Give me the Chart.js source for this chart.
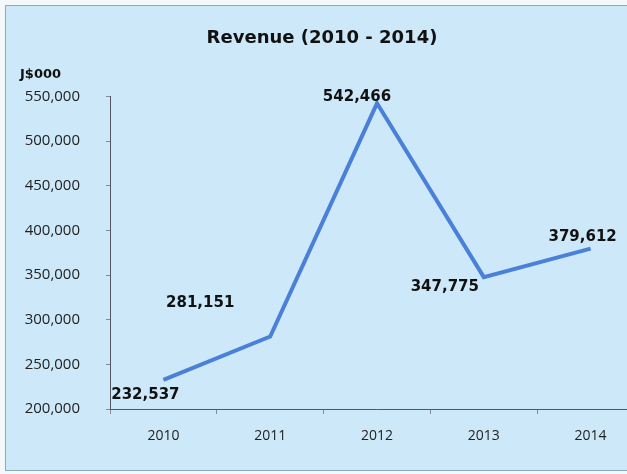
<!DOCTYPE html>
<html>
<head>
<meta charset="utf-8">
<script src="https://cdn.jsdelivr.net/npm/chart.js@4.4.1/dist/chart.umd.min.js"></script>
<style>
  html, body { margin: 0; padding: 0; background: #f4f8fb; overflow: hidden; }
  body { width: 627px; height: 474px; position: relative; }
  #bg {
    position: absolute; left: 5px; top: 5px; width: 640px; height: 464px;
    background: #cde8f8; border: 1px solid #8ea9ba;
  }
  #wrap { position: absolute; left: 0; top: 0; width: 660px; height: 474px; }
</style>
</head>
<body>
<div id="bg"></div>
<div id="wrap"><canvas id="chart" width="660" height="474"></canvas></div>
<script>
const years = ['2010', '2011', '2012', '2013', '2014'];
const revenue = [232537, 281151, 542466, 347775, 379612];
const yTicks = [200000, 250000, 300000, 350000, 400000, 450000, 500000, 550000];

// where each value label sits relative to its point
const labelShift = [[-18, 15], [-70, -33], [-20, -6], [-39, 10], [-8, -12]];

const fmt = v => v.toLocaleString('en-US');

const valueLabels = {
  id: 'valueLabels',
  afterDatasetsDraw(chart) {
    const ctx = chart.ctx;
    const meta = chart.getDatasetMeta(0);
    ctx.save();
    ctx.font = 'bold 15px "DejaVu Sans"';
    ctx.fillStyle = '#111';
    ctx.textAlign = 'center';
    ctx.textBaseline = 'middle';
    meta.data.forEach((pt, i) => {
      const [dx, dy] = labelShift[i];
      ctx.fillText(fmt(revenue[i]), pt.x + dx, pt.y + dy);
    });
    // unit label above the y axis
    ctx.font = 'bold 13px "DejaVu Sans"';
    ctx.textAlign = 'left';
    ctx.fillText('J$000', 20, 75);
    ctx.restore();
  }
};

new Chart(document.getElementById('chart'), {
  type: 'line',
  data: {
    labels: years,
    datasets: [{
      data: revenue,
      borderColor: '#4a80d9',
      borderWidth: 4,
      pointRadius: 0,
      tension: 0
    }]
  },
  options: {
    responsive: false,
    animation: false,
    layout: { padding: { left: 0, right: 16, top: 0, bottom: 0 } },
    plugins: {
      legend: { display: false },
      tooltip: { enabled: false },
      title: {
        display: true,
        text: 'Revenue (2010 - 2014)',
        color: '#111',
        font: { family: '"DejaVu Sans"', size: 18, weight: 'bold' },
        padding: { top: 28, bottom: 47 }
      }
    },
    scales: {
      x: {
        offset: true,
        afterFit: s => { s.height = 65; },
        grid: { display: true, drawOnChartArea: false, offset: true, tickLength: 5, color: '#889' },
        border: { color: '#556', width: 1 },
        ticks: { color: '#222', padding: 14, font: { family: '"Open Sans"', size: 14 } }
      },
      y: {
        min: 200000,
        max: 550000,
        afterFit: s => { s.width = 110; },
        afterBuildTicks: s => { s.ticks = yTicks.map(v => ({ value: v })); },
        grid: { display: true, drawOnChartArea: false, tickLength: 4, color: '#889' },
        border: { color: '#556', width: 1 },
        ticks: { color: '#222', padding: 26, font: { family: '"Open Sans"', size: 15 }, callback: v => fmt(v) }
      }
    }
  },
  plugins: [valueLabels]
});
</script>
</body>
</html>
